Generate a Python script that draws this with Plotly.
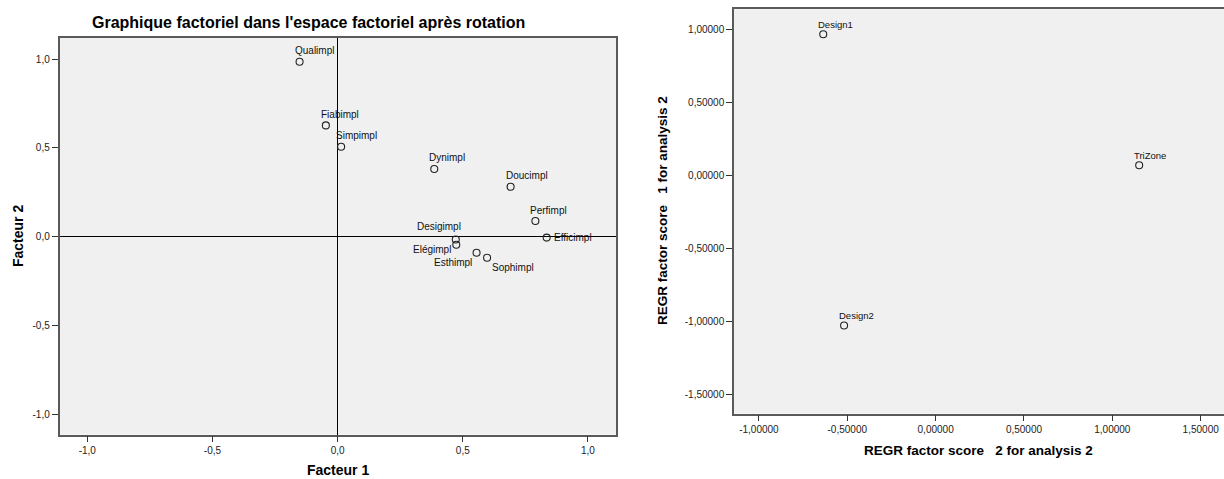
import plotly.graph_objects as go

# Rotated factor loadings (left panel)
variables = ["Qualimpl", "Fiabimpl", "Simpimpl", "Dynimpl", "Doucimpl", "Perfimpl",
             "Efficimpl", "Desigimpl", "Elégimpl", "Esthimpl", "Sophimpl"]
facteur1 = [-0.152, -0.047, 0.014, 0.386, 0.691, 0.790, 0.835, 0.472, 0.474, 0.555, 0.597]
facteur2 = [0.985, 0.627, 0.507, 0.382, 0.282, 0.089, -0.004, -0.015, -0.044, -0.089, -0.117]

# Regression factor scores per product (right panel)
products = ["Design1", "Design2", "TriZone"]
score2 = [-0.636, -0.518, 1.152]
score1 = [0.966, -1.030, 0.068]

# Tick values and labels
left_ticks = [-1.0, -0.5, 0.0, 0.5, 1.0]
left_tick_text = ["-1,0", "-0,5", "0,0", "0,5", "1,0"]
right_x_ticks = [-1.0, -0.5, 0.0, 0.5, 1.0, 1.5]
right_x_tick_text = ["-1,00000", "-0,50000", "0,00000", "0,50000", "1,00000", "1,50000"]
right_y_ticks = [-1.5, -1.0, -0.5, 0.0, 0.5, 1.0]
right_y_tick_text = ["-1,50000", "-1,00000", "-0,50000", "0,00000", "0,50000", "1,00000"]

FONT = "Liberation Sans, Arial, sans-serif"
W, H = 1224, 479
BG = "#f0f0f0"
FRAME = "#5a5a5a"

# label placement: (xanchor, xshift px, yshift px)
default_place = ("left", -7, 11)
label_place = {
    "Desigimpl": ("right", 7, 13),
    "Efficimpl": ("left", 5, 0),
    "Elégimpl": ("right", -3, -5),
    "Esthimpl": ("right", -3, -10),
    "Sophimpl": ("left", 3, -10),
}

fig = go.Figure()

marker = dict(symbol="circle-open", size=7, color="#222222", line=dict(width=1.1))

fig.add_trace(go.Scatter(x=facteur1, y=facteur2, mode="markers", marker=marker,
                         xaxis="x", yaxis="y", showlegend=False, hoverinfo="text",
                         text=variables))
fig.add_trace(go.Scatter(x=score2, y=score1, mode="markers", marker=marker,
                         xaxis="x2", yaxis="y2", showlegend=False, hoverinfo="text",
                         text=products))

annotations = []
for name, xv, yv in zip(variables, facteur1, facteur2):
    anchor, dx, dy = label_place.get(name, default_place)
    annotations.append(dict(x=xv, y=yv, xref="x", yref="y", text=name, showarrow=False,
                            xanchor=anchor, yanchor="middle", xshift=dx, yshift=dy,
                            font=dict(family=FONT, size=10, color="#111111")))
for name, xv, yv in zip(products, score2, score1):
    annotations.append(dict(x=xv, y=yv, xref="x2", yref="y2", text=name, showarrow=False,
                            xanchor="left", yanchor="middle", xshift=-7, yshift=10,
                            font=dict(family=FONT, size=9.5, color="#111111")))


def px_x(p):
    return p / W


def px_y(p):
    return 1 - p / H


title_font = dict(family=FONT, size=14, color="#000000")
annotations += [
    dict(text="<b>Graphique factoriel dans l'espace factoriel après rotation</b>",
         x=px_x(308.5), y=px_y(23), xref="paper", yref="paper", showarrow=False,
         xanchor="center", yanchor="middle",
         font=dict(family=FONT, size=16, color="#000000")),
    dict(text="<b>Facteur 1</b>", x=px_x(337.8), y=px_y(470), xref="paper", yref="paper",
         showarrow=False, xanchor="center", yanchor="middle", font=title_font),
    dict(text="<b>Facteur 2</b>", x=px_x(18), y=px_y(236), xref="paper", yref="paper",
         showarrow=False, xanchor="center", yanchor="middle", textangle=-90, font=title_font),
    dict(text="<b>REGR factor score\u00a0\u00a0\u00a02 for analysis 2</b>",
         x=px_x(978), y=px_y(450), xref="paper", yref="paper", showarrow=False,
         xanchor="center", yanchor="middle",
         font=dict(family=FONT, size=13.5, color="#000000")),
    dict(text="<b>REGR factor score\u00a0\u00a0\u00a01 for analysis 2</b>",
         x=px_x(662), y=px_y(211), xref="paper", yref="paper", showarrow=False,
         xanchor="center", yanchor="middle", textangle=-90,
         font=dict(family=FONT, size=13.5, color="#000000")),
]

tick_font = dict(family=FONT, size=10, color="#222222")
common = dict(showgrid=False, ticks="outside", ticklen=6, tickwidth=1.2,
              tickcolor="#333333", tickfont=tick_font, showline=True,
              linecolor=FRAME, linewidth=1.5, tickmode="array", fixedrange=True)

fig.update_layout(
    width=W, height=H,
    margin=dict(l=0, r=0, t=0, b=0),
    paper_bgcolor="white",
    plot_bgcolor=BG,
    font=dict(family=FONT),
    xaxis=dict(domain=[px_x(59.5), px_x(616)], range=[-1.111, 1.112],
               tickvals=left_ticks, ticktext=left_tick_text, mirror=True,
               zeroline=True, zerolinecolor="#000000", zerolinewidth=1.4,
               anchor="y", **common),
    yaxis=dict(domain=[px_y(434.5), px_y(37.7)], range=[-1.111, 1.12],
               tickvals=left_ticks, ticktext=left_tick_text, mirror=True,
               zeroline=True, zerolinecolor="#000000", zerolinewidth=1.4,
               anchor="x", **common),
    xaxis2=dict(domain=[px_x(734), 1.0], range=[-1.141, 1.632],
                tickvals=right_x_ticks, ticktext=right_x_tick_text, mirror=True,
                zeroline=False, anchor="y2", **common),
    yaxis2=dict(domain=[px_y(413.5), px_y(9.3)], range=[-1.633, 1.137],
                tickvals=right_y_ticks, ticktext=right_y_tick_text, mirror=False,
                zeroline=False, anchor="x2", **common),
    annotations=annotations,
)

fig.write_html("out.html")
